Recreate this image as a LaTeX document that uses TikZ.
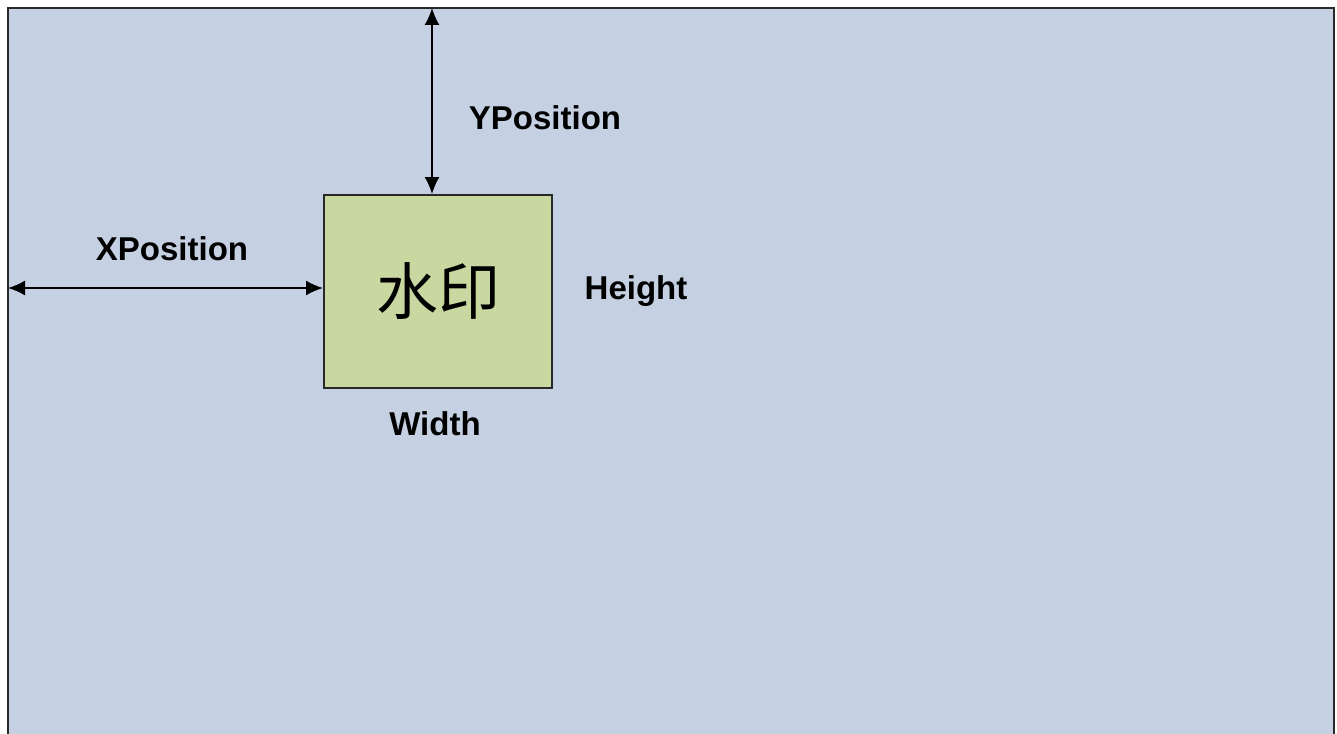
\documentclass[tikz,border=0pt]{standalone}
\usepackage{fontspec}
\setmainfont{Liberation Sans}
\newfontfamily\cjk{Noto Sans CJK SC}
\usetikzlibrary{arrows.meta}
\definecolor{bgblue}{RGB}{197,208,226}
\definecolor{boxgreen}{RGB}{200,216,160}
\definecolor{edge}{RGB}{40,40,40}
\tikzset{
  lbl/.style={font=\fontsize{33}{36}\selectfont\bfseries, text=black, inner sep=0pt},
  dim/.style={line width=1.6pt, {Latex[length=17pt,width=15pt]}-{Latex[length=17pt,width=15pt]}},
  wm/.style={draw=edge, line width=2pt, fill=boxgreen, minimum width=228pt, minimum height=193pt, inner sep=0pt}
}
\begin{document}
\begin{tikzpicture}[x=1pt,y=-1pt]
\useasboundingbox (0,0) rectangle (1337,733);
\clip (0,0) rectangle (1337,733);
\fill[white] (0,0) rectangle (1337,733);
\draw[draw=edge, line width=2.5pt, fill=bgblue] (8,8) rectangle (1334,760);
\node[wm] (box) at (438,291.5) {};
\node[font=\cjk\fontsize{62}{64}\selectfont, inner sep=0pt] (wmtext) at (438,291) {水印};
\coordinate (left) at (8,288);
\coordinate (top) at (432,8);
\draw[dim] (left) -- (box.west |- left);
\draw[dim] (top) -- (top |- box.north);
\node[lbl] (xp) at (172,249) {XPosition};
\node[lbl] (yp) at (545,118) {YPosition};
\node[lbl] (hh) at (636,291) {Height};
\node[lbl] (ww) at (435,424) {Width};
\end{tikzpicture}
\end{document}
